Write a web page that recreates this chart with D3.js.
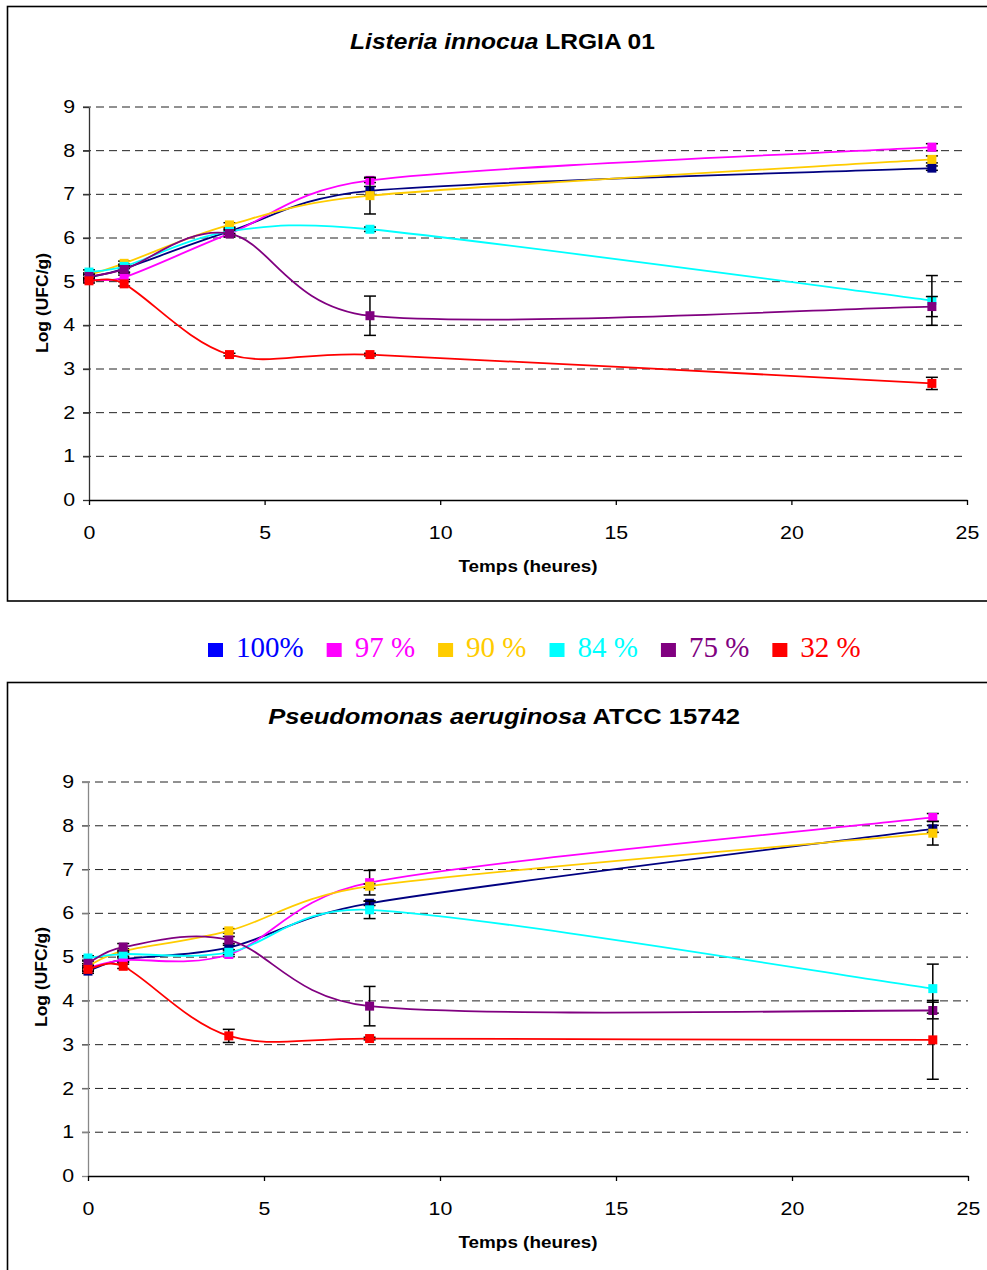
<!DOCTYPE html>
<html>
<head>
<meta charset="utf-8">
<script src="https://cdn.jsdelivr.net/npm/d3@7"></script>
<style>
  body { margin: 0; background: #fff; }
  svg { display: block; }
</style>
</head>
<body>
<svg id="chart" width="987" height="1270"></svg>
<script>
// ---------------- DATA ----------------
const times = [0, 1, 4, 8, 24];
const seriesNames = ["100%", "97 %", "90 %", "84 %", "75 %", "32 %"];
const lineColors = ["#000080", "#FF00FF", "#FFCC00", "#00FFFF", "#800080", "#FF0000"];
const legendColors = ["#0000FF", "#FF00FF", "#FFCC00", "#00FFFF", "#800080", "#FF0000"];
const yTickValues = [0, 1, 2, 3, 4, 5, 6, 7, 8, 9];
const xTickValues = [0, 5, 10, 15, 20, 25];

// Listeria innocua LRGIA 01
const listeria100 = [5.10, 5.30, 6.15, 7.08, 7.60];
const listeria97  = [5.05, 5.10, 6.10, 7.32, 8.08];
const listeria90  = [5.15, 5.42, 6.30, 6.97, 7.80];
const listeria84  = [5.22, 5.35, 6.15, 6.20, 4.57];
const listeria75  = [5.12, 5.28, 6.10, 4.22, 4.43];
const listeria32  = [5.02, 4.95, 3.33, 3.33, 2.67];
const listeriaErr100 = [0.05, 0.08, 0.08, 0.10, 0.05];
const listeriaErr97  = [0.03, 0.05, 0.05, 0.05, 0.08];
const listeriaErr90  = [0.05, 0.05, 0.05, 0.42, 0.08];
const listeriaErr84  = [0.05, 0.05, 0.05, 0.05, 0.57];
const listeriaErr75  = [0.05, 0.08, 0.08, 0.45, 0.23];
const listeriaErr32  = [0.05, 0.05, 0.03, 0.03, 0.14];

// Pseudomonas aeruginosa ATCC 15742
const pseudo100 = [4.68, 4.95, 5.22, 6.23, 7.93];
const pseudo97  = [4.75, 4.93, 5.06, 6.70, 8.19];
const pseudo90  = [4.80, 5.14, 5.60, 6.62, 7.83];
const pseudo84  = [4.98, 5.07, 5.11, 6.08, 4.28];
const pseudo75  = [4.86, 5.23, 5.39, 3.88, 3.78];
const pseudo32  = [4.72, 4.79, 3.20, 3.14, 3.11];
const pseudoErr100 = [0.05, 0.05, 0.05, 0.05, 0.08];
const pseudoErr97  = [0.05, 0.05, 0.05, 0.28, 0.09];
const pseudoErr90  = [0.05, 0.05, 0.05, 0.05, 0.27];
const pseudoErr84  = [0.05, 0.05, 0.05, 0.20, 0.56];
const pseudoErr75  = [0.05, 0.08, 0.08, 0.45, 0.19];
const pseudoErr32  = [0.05, 0.05, 0.15, 0.03, 0.90];

// ---------------- DRAW ----------------
const svg = d3.select("#chart");
const SANS = "'Liberation Sans', Arial, sans-serif";
const SERIF = "'Liberation Serif', 'Times New Roman', serif";

// Spreadsheet-style smoothed line: Bezier segments with 1/6 tangents,
// each control arm capped at half of the segment length.
function smoothPath(pts) {
  const p = d3.path();
  const dist = (a, b) => Math.hypot(b[0] - a[0], b[1] - a[1]);
  p.moveTo(pts[0][0], pts[0][1]);
  for (let i = 0; i < pts.length - 1; i++) {
    const p0 = pts[Math.max(0, i - 1)], p1 = pts[i], p2 = pts[i + 1], p3 = pts[Math.min(pts.length - 1, i + 2)];
    const d12 = dist(p1, p2);
    const d02 = dist(p0, p2), d13 = dist(p1, p3);
    let f1 = 1 / 6, f2 = 1 / 6;
    if (d02 * f1 > d12 / 2) f1 = d12 / 2 / d02;
    if (d13 * f2 > d12 / 2) f2 = d12 / 2 / d13;
    const c1 = [p1[0] + (p2[0] - p0[0]) * f1, p1[1] + (p2[1] - p0[1]) * f1];
    const c2 = [p2[0] - (p3[0] - p1[0]) * f2, p2[1] - (p3[1] - p1[1]) * f2];
    p.bezierCurveTo(c1[0], c1[1], c2[0], c2[1], p2[0], p2[1]);
  }
  return p.toString();
}

function fitText(sel, targetW) {
  const w = sel.node().getComputedTextLength();
  return targetW / w;
}

function drawChart(cfg) {
  const g = svg.append("g");
  // frame
  g.append("rect")
    .attr("x", cfg.box[0]).attr("y", cfg.box[1])
    .attr("width", cfg.box[2]).attr("height", cfg.box[3])
    .attr("fill", "none").attr("stroke", "#000").attr("stroke-width", 1.6);

  const x = d3.scaleLinear().domain([0, 25]).range([cfg.left, cfg.right]);
  const y = d3.scaleLinear().domain([0, 9]).range([cfg.bottom, cfg.top]);

  // gridlines
  g.append("g").selectAll("line")
    .data(yTickValues.filter(d => d > 0))
    .join("line")
    .attr("x1", cfg.left - 6).attr("x2", cfg.right)
    .attr("y1", d => y(d)).attr("y2", d => y(d))
    .attr("stroke", "#222").attr("stroke-width", 1)
    .attr("stroke-dasharray", "8,5");

  // y axis
  const sx = 1.22;
  const yAxis = g.append("g")
    .attr("transform", `translate(${cfg.left},0)`)
    .call(d3.axisLeft(y).tickValues(yTickValues).tickSize(6).tickSizeOuter(0).tickPadding(8).tickFormat(d3.format("d")));
  yAxis.select(".domain").attr("stroke", cfg.yAxisColor).attr("stroke-width", 1.3);
  yAxis.selectAll(".tick line").attr("stroke", cfg.yAxisColor).attr("stroke-width", 1.3);
  yAxis.selectAll(".tick text")
    .attr("font-family", SANS).attr("font-size", 17.5).attr("fill", "#000")
    .attr("x", -14 / sx).attr("transform", `scale(${sx},1)`);

  // x axis
  const xAxis = g.append("g")
    .attr("transform", `translate(0,${cfg.bottom})`)
    .call(d3.axisBottom(x).tickValues(xTickValues).tickSize(5).tickSizeOuter(0).tickPadding(22).tickFormat(d3.format("d")));
  xAxis.select(".domain").attr("stroke", "#000").attr("stroke-width", 1.3);
  xAxis.selectAll(".tick line").attr("stroke", "#000").attr("stroke-width", 1.3);
  xAxis.selectAll(".tick text")
    .attr("font-family", SANS).attr("font-size", 17.5).attr("fill", "#000")
    .attr("transform", `scale(${sx},1)`);

  // title
  const t = g.append("text")
    .attr("font-family", SANS).attr("font-size", 22).attr("font-weight", "bold")
    .attr("text-anchor", "middle").attr("fill", "#000");
  t.append("tspan").attr("font-style", "italic").text(cfg.titleItalic);
  t.append("tspan").text(" " + cfg.titleRest);
  const ts = fitText(t, cfg.titleW);
  t.attr("transform", `translate(${cfg.titleX},${cfg.titleY}) scale(${ts},1)`);

  // y axis label
  g.append("text")
    .attr("font-family", SANS).attr("font-size", 16).attr("font-weight", "bold")
    .attr("text-anchor", "middle").attr("fill", "#000")
    .attr("textLength", 100).attr("lengthAdjust", "spacingAndGlyphs")
    .attr("transform", `translate(${cfg.ylabX},${cfg.ylabY}) rotate(-90)`)
    .attr("dy", "0.35em")
    .text("Log (UFC/g)");

  // x axis label
  g.append("text")
    .attr("font-family", SANS).attr("font-size", 17).attr("font-weight", "bold")
    .attr("text-anchor", "middle").attr("fill", "#000")
    .attr("x", cfg.xlabX).attr("y", cfg.xlabY)
    .attr("textLength", 139).attr("lengthAdjust", "spacingAndGlyphs")
    .text("Temps (heures)");

  cfg.values.forEach((vals, si) => {
    const errs = cfg.errors[si];
    const sg = g.append("g");
    // error bars
    const eb = sg.append("g").selectAll("g").data(vals).join("g");
    eb.append("line")
      .attr("x1", (d, i) => x(times[i])).attr("x2", (d, i) => x(times[i]))
      .attr("y1", (d, i) => y(d - errs[i])).attr("y2", (d, i) => y(d + errs[i]))
      .attr("stroke", "#000").attr("stroke-width", 1.5);
    eb.append("line")
      .attr("x1", (d, i) => x(times[i]) - 6).attr("x2", (d, i) => x(times[i]) + 6)
      .attr("y1", (d, i) => y(d - errs[i])).attr("y2", (d, i) => y(d - errs[i]))
      .attr("stroke", "#000").attr("stroke-width", 1.5);
    eb.append("line")
      .attr("x1", (d, i) => x(times[i]) - 6).attr("x2", (d, i) => x(times[i]) + 6)
      .attr("y1", (d, i) => y(d + errs[i])).attr("y2", (d, i) => y(d + errs[i]))
      .attr("stroke", "#000").attr("stroke-width", 1.5);
    // smoothed line
    const pts = vals.map((d, i) => [x(times[i]), y(d)]);
    sg.append("path")
      .attr("d", smoothPath(pts))
      .attr("fill", "none").attr("stroke", lineColors[si]).attr("stroke-width", 1.8);
    // markers
    sg.append("g").selectAll("rect").data(vals).join("rect")
      .attr("x", (d, i) => x(times[i]) - 4.5).attr("y", d => y(d) - 4.5)
      .attr("width", 9).attr("height", 9)
      .attr("fill", lineColors[si]);
  });
}

drawChart({
  box: [7.5, 6.5, 1000, 594.5],
  left: 89, right: 967, top: 107, bottom: 500,
  yAxisColor: "#333",
  titleItalic: "Listeria innocua", titleRest: "LRGIA 01",
  titleX: 502.5, titleY: 49, titleW: 305,
  ylabX: 42, ylabY: 303,
  xlabX: 528, xlabY: 572,
  values: [listeria100, listeria97, listeria90, listeria84, listeria75, listeria32],
  errors: [listeriaErr100, listeriaErr97, listeriaErr90, listeriaErr84, listeriaErr75, listeriaErr32]
});

drawChart({
  box: [7.5, 682.5, 1000, 700],
  left: 88, right: 968, top: 782, bottom: 1176,
  yAxisColor: "#888",
  titleItalic: "Pseudomonas aeruginosa", titleRest: "ATCC 15742",
  titleX: 504, titleY: 724, titleW: 472,
  ylabX: 41, ylabY: 977,
  xlabX: 528, xlabY: 1248,
  values: [pseudo100, pseudo97, pseudo90, pseudo84, pseudo75, pseudo32],
  errors: [pseudoErr100, pseudoErr97, pseudoErr90, pseudoErr84, pseudoErr75, pseudoErr32]
});

// legend
const leg = svg.append("g");
let lx = 208;
seriesNames.forEach((name, i) => {
  leg.append("rect")
    .attr("x", lx).attr("y", 643).attr("width", 15).attr("height", 14)
    .attr("fill", legendColors[i]);
  const tx = leg.append("text")
    .attr("x", lx + 28).attr("y", 657)
    .attr("font-family", SERIF).attr("font-size", 29)
    .attr("fill", legendColors[i])
    .text(name);
  lx += 28 + tx.node().getComputedTextLength() + 23;
});
</script>
</body>
</html>
